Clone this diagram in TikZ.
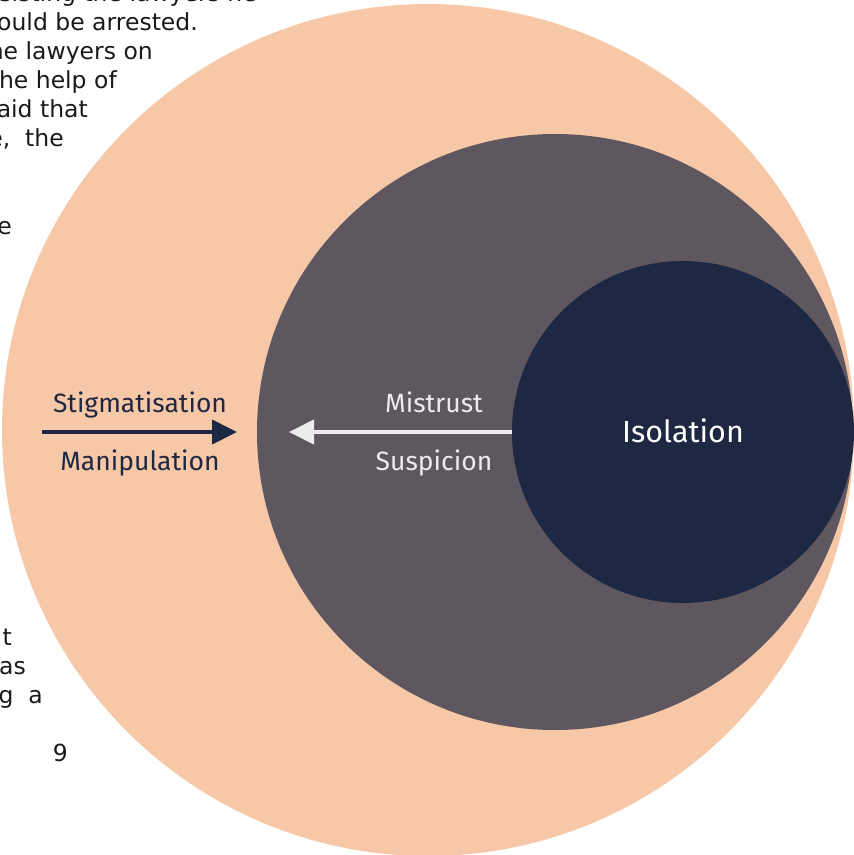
\documentclass[tikz,border=0pt]{standalone}
\usepackage{fontspec}
\setmainfont{Fira Sans}
\newfontfamily\bodyfont{DejaVu Sans}
\usetikzlibrary{arrows.meta}
\definecolor{peach}{HTML}{F7C8A7}
\definecolor{mauve}{HTML}{5E5760}
\definecolor{navy}{HTML}{1F2842}
\definecolor{lightgrey}{HTML}{ECECEC}
\definecolor{ink}{HTML}{1A1A1A}
\begin{document}
\begin{tikzpicture}[x=1pt,y=-1pt,
  body/.style={font=\bodyfont\fontsize{23.5}{23.5}\selectfont, text=ink, inner sep=0pt, anchor=base east},
  ring/.style={circle, inner sep=0pt, draw=none},
  lab/.style={font=\fontsize{26.5}{26.5}\selectfont, inner sep=0pt}]
\useasboundingbox (0,0) rectangle (854,855);
\clip (0,0) rectangle (854,855);
% background text (partly covered)
\node[body] (t0) at (257,1) {insisting the lawyers he};
\node[body] (t1) at (198,30) {would be arrested.};
\node[body] (t2) at (153,59) {the lawyers on};
\node[body] (t3) at (117,88) {the help of};
\node[body] (t4) at (88,117) {said that};
\node[body] (t5) at (64,146) {e, \ the};
\node[body] (t6) at (12,234) {e};
\node[body] (t7) at (12,645) {t};
\node[body] (t8) at (26,674) {as};
\node[body] (t9) at (43,703) {g\ \ a};
\node[body] (t10) at (68,761) {9};
% circles
\node[ring, fill=peach, minimum size=852pt] (outer) at (428,430) {};
\node[ring, fill=mauve, minimum size=596pt] (middle) at (555,432) {};
\node[ring, fill=navy, minimum size=342pt] (inner) at (683,432) {};
% labels
\node[lab, text=navy, anchor=base] (stig) at (140,412) {Stigmatisation};
\node[lab, text=navy, anchor=base] (manip) at (140,470) {Manipulation};
\node[lab, text=lightgrey, anchor=base] (mis) at (434,412) {Mistrust};
\node[lab, text=lightgrey, anchor=base] (sus) at (434,470) {Suspicion};
\node[font=\fontsize{30.5}{30.5}\selectfont, text=white, inner sep=0pt, anchor=base] (iso) at (683,442) {Isolation};
% arrows
\coordinate (a1) at (42,432);
\coordinate (a2) at (237,432);
\coordinate (b1) at (inner.west);
\coordinate (b2) at (289,432);
\draw[navy, line width=4pt, -{Triangle[length=25pt,width=24pt]}] (a1) -- (a2);
\draw[lightgrey, line width=4pt, -{Triangle[length=25pt,width=24pt]}] (b1) -- (b2);
\end{tikzpicture}
\end{document}
